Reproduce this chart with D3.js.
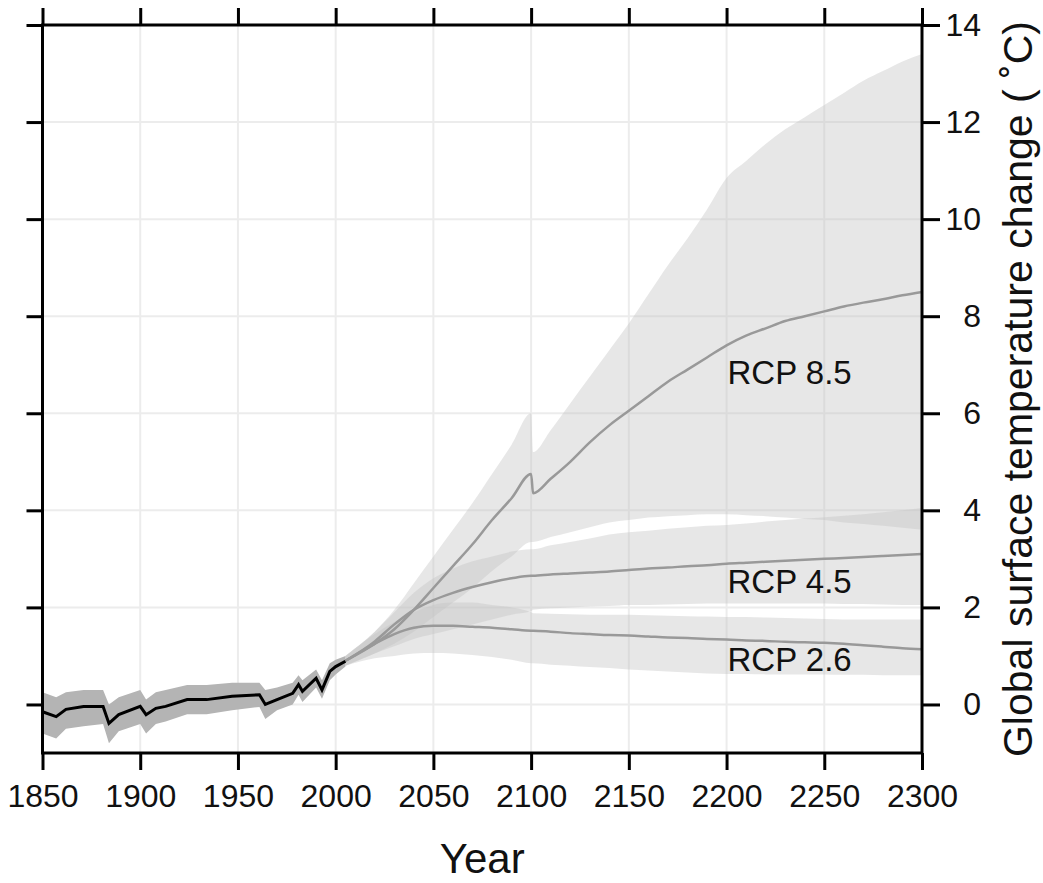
<!DOCTYPE html>
<html>
<head>
<meta charset="utf-8">
<script src="https://cdn.jsdelivr.net/npm/d3@7"></script>
<style>
  body { margin: 0; background: #fff; }
  text { font-family: "Liberation Sans", Arial, sans-serif; fill: #111; }
</style>
</head>
<body>
<svg id="chart" width="1043" height="883"></svg>
<script>
// ---------------- data ----------------
var histYears = [1850, 1857, 1862, 1871, 1881, 1884, 1889, 1900, 1903, 1908, 1913, 1924, 1934, 1947, 1961, 1964, 1970, 1978, 1981, 1983, 1990, 1993, 1997, 2000, 2005];
var histMean  = [-0.15, -0.25, -0.1, -0.04, -0.04, -0.39, -0.21, -0.04, -0.21, -0.08, -0.04, 0.1, 0.1, 0.17, 0.2, 0.0, 0.1, 0.23, 0.41, 0.27, 0.54, 0.3, 0.68, 0.78, 0.89];
var histHigh  = [0.25, 0.15, 0.25, 0.3, 0.3, 0.0, 0.15, 0.3, 0.1, 0.25, 0.3, 0.4, 0.4, 0.45, 0.45, 0.3, 0.35, 0.45, 0.6, 0.5, 0.72, 0.5, 0.85, 0.92, 1.0];
var histLow   = [-0.6, -0.7, -0.5, -0.45, -0.4, -0.8, -0.55, -0.4, -0.6, -0.4, -0.35, -0.2, -0.2, -0.12, -0.05, -0.3, -0.12, 0.0, 0.2, 0.05, 0.35, 0.12, 0.5, 0.62, 0.78];

var projYears = [2005, 2020, 2030, 2040, 2050, 2060, 2070, 2080, 2090, 2100, 2101, 2110, 2120, 2130, 2140, 2150, 2160, 2170, 2180, 2190, 2200, 2210, 2220, 2230, 2240, 2250, 2260, 2270, 2280, 2290, 2300];

var rcp85Mean = [0.9, 1.25, 1.55, 1.95, 2.4, 2.85, 3.3, 3.8, 4.25, 4.75, 4.35, 4.65, 5.0, 5.4, 5.75, 6.05, 6.35, 6.65, 6.9, 7.15, 7.4, 7.6, 7.75, 7.9, 8.0, 8.1, 8.2, 8.28, 8.35, 8.43, 8.5];
var rcp85High = [1.0, 1.5, 1.95, 2.5, 3.05, 3.6, 4.15, 4.75, 5.35, 6.0, 5.2, 5.65, 6.2, 6.75, 7.3, 7.85, 8.45, 9.05, 9.6, 10.2, 10.85, 11.2, 11.55, 11.85, 12.1, 12.35, 12.6, 12.85, 13.05, 13.25, 13.4];
var rcp85Low  = [0.8, 1.05, 1.25, 1.5, 1.8, 2.1, 2.4, 2.75, 3.05, 3.35, 3.35, 3.45, 3.55, 3.65, 3.75, 3.8, 3.85, 3.88, 3.9, 3.92, 3.92, 3.9, 3.88, 3.85, 3.82, 3.8, 3.75, 3.72, 3.68, 3.64, 3.6];

var rcp45Mean = [0.9, 1.3, 1.65, 1.95, 2.15, 2.3, 2.42, 2.52, 2.6, 2.65, 2.65, 2.68, 2.7, 2.72, 2.74, 2.77, 2.8, 2.82, 2.85, 2.87, 2.9, 2.92, 2.94, 2.96, 2.98, 3.0, 3.02, 3.04, 3.06, 3.08, 3.1];
var rcp45High = [1.0, 1.5, 1.9, 2.3, 2.6, 2.8, 2.95, 3.05, 3.15, 3.2, 3.2, 3.28, 3.35, 3.42, 3.5, 3.55, 3.58, 3.62, 3.65, 3.68, 3.7, 3.73, 3.77, 3.8, 3.83, 3.86, 3.89, 3.92, 3.96, 4.0, 4.05];
var rcp45Low  = [0.8, 1.05, 1.2, 1.35, 1.45, 1.55, 1.65, 1.75, 1.85, 1.92, 1.95, 1.98, 2.0, 2.02, 2.03, 2.05, 2.05, 2.06, 2.07, 2.08, 2.08, 2.08, 2.08, 2.08, 2.08, 2.08, 2.07, 2.07, 2.06, 2.05, 2.05];

var rcp26Mean = [0.9, 1.25, 1.45, 1.58, 1.62, 1.62, 1.6, 1.58, 1.55, 1.52, 1.52, 1.5, 1.47, 1.45, 1.43, 1.42, 1.4, 1.38, 1.37, 1.35, 1.34, 1.32, 1.31, 1.29, 1.28, 1.27, 1.25, 1.22, 1.19, 1.16, 1.14];
var rcp26High = [1.0, 1.45, 1.7, 1.9, 2.05, 2.1, 2.1, 2.05, 2.0, 1.9, 1.88, 1.87, 1.86, 1.85, 1.85, 1.85, 1.84, 1.83, 1.82, 1.81, 1.8, 1.8, 1.79, 1.78, 1.77, 1.76, 1.75, 1.75, 1.75, 1.75, 1.75];
var rcp26Low  = [0.8, 0.95, 1.0, 1.05, 1.06, 1.05, 1.02, 0.98, 0.92, 0.85, 0.85, 0.82, 0.8, 0.77, 0.75, 0.72, 0.7, 0.68, 0.66, 0.64, 0.63, 0.63, 0.62, 0.62, 0.62, 0.62, 0.61, 0.61, 0.6, 0.6, 0.6];

var scenarioNames = ["RCP 8.5", "RCP 4.5", "RCP 2.6"];
var labelYears    = [2200.5, 2200.5, 2200.5];
var labelValues   = [6.6, 2.3, 0.68];

var xTicks = [1850, 1900, 1950, 2000, 2050, 2100, 2150, 2200, 2250, 2300];
var yTicks = [0, 2, 4, 6, 8, 10, 12, 14];

// ---------------- layout ----------------
var svg = d3.select("#chart");
var plotL = 42.5, plotR = 922, plotT = 25, plotB = 753;

var x = d3.scaleLinear().domain([1850, 2300]).range([plotL, plotR]);
var y = d3.scaleLinear().domain([-1, 14]).range([plotB, plotT]);

// grid
var grid = svg.append("g");
grid.selectAll(".vg").data(xTicks).enter().append("line")
    .attr("x1", d => x(d)).attr("x2", d => x(d))
    .attr("y1", plotT).attr("y2", plotB)
    .attr("stroke", "#ececec").attr("stroke-width", 2);
grid.selectAll(".hg").data(yTicks).enter().append("line")
    .attr("x1", plotL).attr("x2", plotR)
    .attr("y1", d => y(d)).attr("y2", d => y(d))
    .attr("stroke", "#ececec").attr("stroke-width", 2);

// projection bands
var scenarios = [
    {mean: rcp85Mean, low: rcp85Low, high: rcp85High},
    {mean: rcp45Mean, low: rcp45Low, high: rcp45High},
    {mean: rcp26Mean, low: rcp26Low, high: rcp26High}
];

var area = d3.area()
    .x(d => x(d.year)).y0(d => y(d.low)).y1(d => y(d.high))
    .curve(d3.curveMonotoneX);
var line = d3.line()
    .x(d => x(d.year)).y(d => y(d.v))
    .curve(d3.curveMonotoneX);

scenarios.forEach(function (s) {
    var pts = projYears.map((yr, i) => ({year: yr, low: s.low[i], high: s.high[i]}));
    svg.append("path").datum(pts)
        .attr("d", area)
        .attr("fill", "#c4c4c4").attr("fill-opacity", 0.4);
});

// historical band
var hist = histYears.map((yr, i) => ({year: yr, v: histMean[i], low: histLow[i], high: histHigh[i]}));
svg.append("path").datum(hist)
    .attr("d", d3.area().x(d => x(d.year)).y0(d => y(d.low)).y1(d => y(d.high)))
    .attr("fill", "#b4b4b4");

// scenario mean lines
scenarios.forEach(function (s) {
    var pts = projYears.map((yr, i) => ({year: yr, v: s.mean[i]}));
    svg.append("path").datum(pts)
        .attr("d", line)
        .attr("fill", "none").attr("stroke", "#999").attr("stroke-width", 2.5);
});

// historical line
svg.append("path").datum(hist)
    .attr("d", d3.line().x(d => x(d.year)).y(d => y(d.v)))
    .attr("fill", "none").attr("stroke", "#000").attr("stroke-width", 3);

// scenario labels
svg.selectAll(".lab").data(scenarioNames).enter().append("text")
    .attr("x", (d, i) => x(labelYears[i]))
    .attr("y", (d, i) => y(labelValues[i]))
    .attr("font-size", 33)
    .text(d => d);

// ---------------- axes ----------------
var axStyle = function (g) {
    g.select(".domain").remove();
    g.selectAll(".tick line").attr("stroke", "#000").attr("stroke-width", 3);
};

svg.append("g").attr("transform", `translate(0,${plotB})`)
    .call(d3.axisBottom(x).tickValues(xTicks).tickSize(17).tickPadding(14).tickFormat(d3.format("d")))
    .call(axStyle)
    .call(g => g.selectAll("text").attr("font-size", 32).attr("fill", "#111")
        .attr("font-family", "Liberation Sans, Arial, sans-serif"));

svg.append("g").attr("transform", `translate(0,${plotT})`)
    .call(d3.axisTop(x).tickValues(xTicks).tickSize(17).tickFormat(""))
    .call(axStyle);

svg.append("g").attr("transform", `translate(${plotL},0)`)
    .call(d3.axisLeft(y).tickValues(yTicks).tickSize(16).tickFormat(""))
    .call(axStyle);

svg.append("g").attr("transform", `translate(${plotR},0)`)
    .call(d3.axisRight(y).tickValues(yTicks).tickSize(18).tickPadding(0).tickFormat(d3.format("d")))
    .call(axStyle)
    .call(g => g.selectAll("text").attr("font-size", 32).attr("fill", "#111")
        .attr("font-family", "Liberation Sans, Arial, sans-serif")
        .attr("text-anchor", "end").attr("x", 59));

// frame
svg.append("rect")
    .attr("x", plotL).attr("y", plotT)
    .attr("width", plotR - plotL).attr("height", plotB - plotT)
    .attr("fill", "none").attr("stroke", "#000").attr("stroke-width", 3);

// titles
svg.append("text")
    .attr("x", (plotL + plotR) / 2).attr("y", 873)
    .attr("text-anchor", "middle").attr("font-size", 42)
    .text("Year");

svg.append("text")
    .attr("transform", `translate(1032,${(plotT + plotB) / 2}) rotate(-90)`)
    .attr("text-anchor", "middle").attr("font-size", 41)
    .text("Global surface temperature change ( ˚C)");
</script>
</body>
</html>
